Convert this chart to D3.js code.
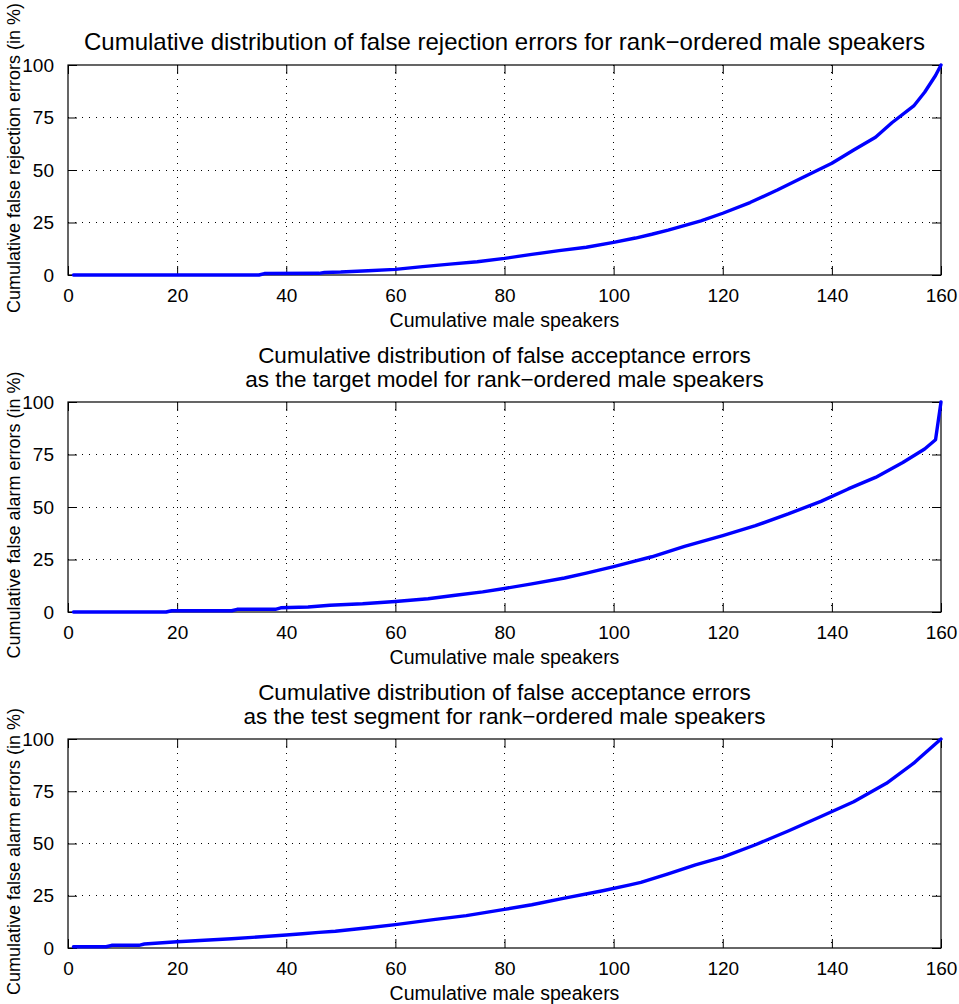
<!DOCTYPE html>
<html>
<head>
<meta charset="utf-8">
<script src="https://cdn.jsdelivr.net/npm/d3@7"></script>
<style>
  html, body { margin: 0; padding: 0; background: #fff; }
  svg { display: block; }
  text { font-family: "Liberation Sans", Arial, Helvetica, sans-serif; fill: #000; }
</style>
</head>
<body>
<svg id="chart" width="959" height="1004"></svg>
<script>
// ---------- data ----------
const xTicks = [0, 20, 40, 60, 80, 100, 120, 140, 160];
const yTicks = [0, 25, 50, 75, 100];

const frX = [1,35,36,46,47,50,52,55,60,65,70,75,80,85,90,95,100,104,107,110,116,120,125,130,134,140,144,148,151,155,157,159,160];
const frY = [0,0,0.7,0.8,1.2,1.4,1.7,2.0,2.7,4.0,5.2,6.3,7.9,9.8,11.6,13.2,15.5,17.6,19.4,21.4,25.8,29.4,34.5,40.5,45.6,53.2,59.5,65.6,72.5,80.5,87,95,100];

const taX = [1,18,19,30,31,38,39,44,48,54,60,66,71,76,80,85,91,95,100,103,107,113,120,126,132,138,143,148,153,157,159,160];
const taY = [0,0,0.6,0.6,1.3,1.3,2,2.4,3.2,3.9,5,6.3,8,9.6,11.2,13.4,16.2,18.5,21.6,23.6,26.3,31.3,36.4,41.1,46.7,52.7,58.6,64.1,71.2,77.6,82,100];

const tsX = [1,7,8,13,14,20,30,40,43,46,49,55,60,67,73,80,85,91,98,103,105,110,115,120,126,132,138,144,150,155,156,160];
const tsY = [0.6,0.6,1.3,1.3,1.9,3,4.4,6.2,6.8,7.5,8,9.7,11.2,13.6,15.5,18.5,20.7,23.9,27.4,30.2,31.4,35.5,39.8,43.5,49.4,56,62.9,70,78.8,88.4,90.8,100];

const titles = [
  ["Cumulative distribution of false rejection errors for rank\u2212ordered male speakers"],
  ["Cumulative distribution of false acceptance errors", "as the target model for rank\u2212ordered male speakers"],
  ["Cumulative distribution of false acceptance errors", "as the test segment for rank\u2212ordered male speakers"]
];
const yLabels = [
  "Cumulative false rejection errors (in %)",
  "Cumulative false alarm errors (in %)",
  "Cumulative false alarm errors (in %)"
];
const xLabel = "Cumulative male speakers";

// ---------- layout ----------
const svg = d3.select("#chart");
const left = 68, right = 941;
const panels = [
  { top: 65,  bottom: 275, xs: frX, ys: frY, titleSize: 24 },
  { top: 402, bottom: 612, xs: taX, ys: taY, titleSize: 22.5 },
  { top: 739, bottom: 948, xs: tsX, ys: tsY, titleSize: 22.5 }
];
const tickLen = 9;
const fontTick = 19, fontLabel = 19.5, fontYLabel = 18;

panels.forEach((p, i) => {
  const x = d3.scaleLinear().domain([0, 160]).range([left, right]);
  const y = d3.scaleLinear().domain([0, 100]).range([p.bottom, p.top]);
  const g = svg.append("g");

  // grid
  g.selectAll(".vg").data(xTicks.slice(1, -1)).enter().append("line")
    .attr("x1", d => x(d)).attr("x2", d => x(d))
    .attr("y1", p.top).attr("y2", p.bottom)
    .attr("stroke", "#000").attr("stroke-width", 1)
    .attr("stroke-dasharray", "1,6").attr("shape-rendering", "crispEdges");
  g.selectAll(".hg").data(yTicks.slice(1, -1)).enter().append("line")
    .attr("x1", left).attr("x2", right)
    .attr("y1", d => y(d)).attr("y2", d => y(d))
    .attr("stroke", "#000").attr("stroke-width", 1)
    .attr("stroke-dasharray", "1,6").attr("shape-rendering", "crispEdges");

  // ticks (inward, all four sides)
  const bottomAxis = d3.axisBottom(x).tickValues(xTicks).tickSize(-tickLen).tickPadding(tickLen + 5).tickFormat(d3.format("d"));
  const ax = g.append("g").attr("transform", `translate(0,${p.bottom})`).call(bottomAxis);
  ax.select(".domain").remove();
  ax.selectAll("text").attr("font-size", fontTick).style("font-family", '"Liberation Sans", Arial, sans-serif');
  const topAxis = d3.axisTop(x).tickValues(xTicks).tickSize(-tickLen).tickFormat("");
  const axt = g.append("g").attr("transform", `translate(0,${p.top})`).call(topAxis);
  axt.select(".domain").remove();

  const leftAxis = d3.axisLeft(y).tickValues(yTicks).tickSize(-tickLen).tickPadding(tickLen + 5).tickFormat(d3.format("d"));
  const ay = g.append("g").attr("transform", `translate(${left},0)`).call(leftAxis);
  ay.select(".domain").remove();
  ay.selectAll("text").attr("font-size", fontTick).style("font-family", '"Liberation Sans", Arial, sans-serif');
  const rightAxis = d3.axisRight(y).tickValues(yTicks).tickSize(-tickLen).tickFormat("");
  const ayr = g.append("g").attr("transform", `translate(${right},0)`).call(rightAxis);
  ayr.select(".domain").remove();
  g.selectAll(".tick line").attr("stroke", "#000");

  // box
  g.append("rect").attr("x", left).attr("y", p.top)
    .attr("width", right - left).attr("height", p.bottom - p.top)
    .attr("fill", "none").attr("stroke", "#000").attr("stroke-width", 1.2);

  // line
  const pts = p.xs.map((d, k) => [d, p.ys[k]]);
  g.append("path").datum(pts)
    .attr("d", d3.line().x(d => x(d[0])).y(d => y(d[1])))
    .attr("fill", "none").attr("stroke", "#0000ff")
    .attr("stroke-width", 3.4).attr("stroke-linejoin", "round").attr("stroke-linecap", "round");

  // title
  const t = titles[i];
  const midX = (left + right) / 2;
  t.forEach((line, k) => {
    g.append("text").attr("x", midX)
      .attr("y", p.top - 15 - (t.length - 1 - k) * 24)
      .attr("text-anchor", "middle").attr("font-size", p.titleSize).text(line);
  });

  // x label
  g.append("text").attr("x", midX).attr("y", p.bottom + 52)
    .attr("text-anchor", "middle").attr("font-size", fontLabel).text(xLabel);

  // y label
  const cy = (p.top + p.bottom) / 2 + (i === 0 ? -12 : 8);
  g.append("text").attr("transform", `translate(20,${cy}) rotate(-90)`)
    .attr("text-anchor", "middle").attr("font-size", fontYLabel).text(yLabels[i]);
});
</script>
</body>
</html>
